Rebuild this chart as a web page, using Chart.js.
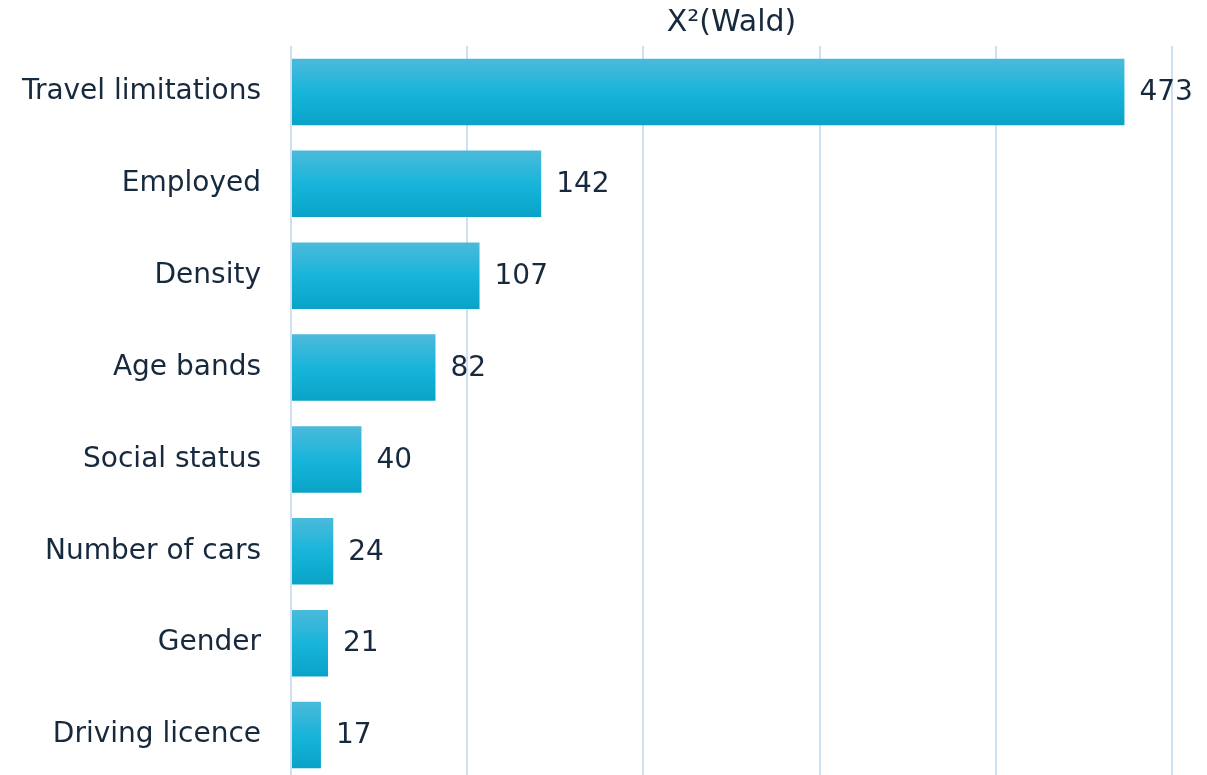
<!DOCTYPE html>
<html>
<head>
<meta charset="utf-8">
<script src="https://cdn.jsdelivr.net/npm/chart.js@4.4.1/dist/chart.umd.min.js"></script>
<style>
  html, body { margin: 0; padding: 0; background: #ffffff; overflow: hidden; }
  #c { display: block; }
</style>
</head>
<body>
<canvas id="c" width="1207" height="781"></canvas>
<script>
const categories = ['Travel limitations', 'Employed', 'Density', 'Age bands', 'Social status', 'Number of cars', 'Gender', 'Driving licence'];
const waldValues = [473, 142, 107, 82, 40, 24, 21, 17];
const axisTitle = 'X²(Wald)';
const xMin = 0, xMax = 500, xStep = 100;

const FONT = '"DejaVu Sans", Verdana, sans-serif';
const TEXT = '#17293d';
const BAR_HALF = 33;

const valueLabels = {
  id: 'valueLabels',
  afterDatasetsDraw(chart) {
    const ctx = chart.ctx;
    const meta = chart.getDatasetMeta(0);
    ctx.save();
    ctx.font = '28px ' + FONT;
    ctx.fillStyle = TEXT;
    ctx.textAlign = 'left';
    ctx.textBaseline = 'middle';
    meta.data.forEach((bar, i) => {
      ctx.fillText(String(waldValues[i]), bar.x + 15, bar.y + 1);
    });
    ctx.restore();
  }
};

new Chart(document.getElementById('c'), {
  type: 'bar',
  data: {
    labels: categories,
    datasets: [{
      data: waldValues,
      borderWidth: 0,
      categoryPercentage: 1,
      barPercentage: 0.725,
      backgroundColor(context) {
        const chart = context.chart;
        if (!chart.chartArea) return '#1ab4da';
        const yc = chart.scales.y.getPixelForValue(context.dataIndex);
        const g = chart.ctx.createLinearGradient(0, yc - BAR_HALF, 0, yc + BAR_HALF);
        g.addColorStop(0, '#4bbadb');
        g.addColorStop(0.5, '#19b4da');
        g.addColorStop(1, '#08a3c7');
        return g;
      }
    }]
  },
  options: {
    indexAxis: 'y',
    responsive: false,
    animation: false,
    layout: { padding: { left: 0, right: 35, top: 0, bottom: 0 } },
    plugins: {
      legend: { display: false },
      tooltip: { enabled: false }
    },
    scales: {
      x: {
        position: 'top',
        min: xMin,
        max: xMax,
        ticks: { display: false, stepSize: xStep },
        grid: { color: '#cfe0f2', lineWidth: 2, drawTicks: false },
        border: { display: false },
        title: {
          display: true,
          text: axisTitle,
          color: TEXT,
          font: { family: FONT, size: 30 },
          padding: { top: 5, bottom: 0 }
        },
        afterFit(scale) { scale.height = 46; }
      },
      y: {
        ticks: {
          color: TEXT,
          font: { family: FONT, size: 28 },
          padding: 30
        },
        grid: { display: false, drawTicks: false },
        border: { display: false },
        afterFit(scale) {
          scale.width = 291;
          scale.paddingTop = 0;
          scale.paddingBottom = 0;
        }
      }
    }
  },
  plugins: [valueLabels]
});
</script>
</body>
</html>
